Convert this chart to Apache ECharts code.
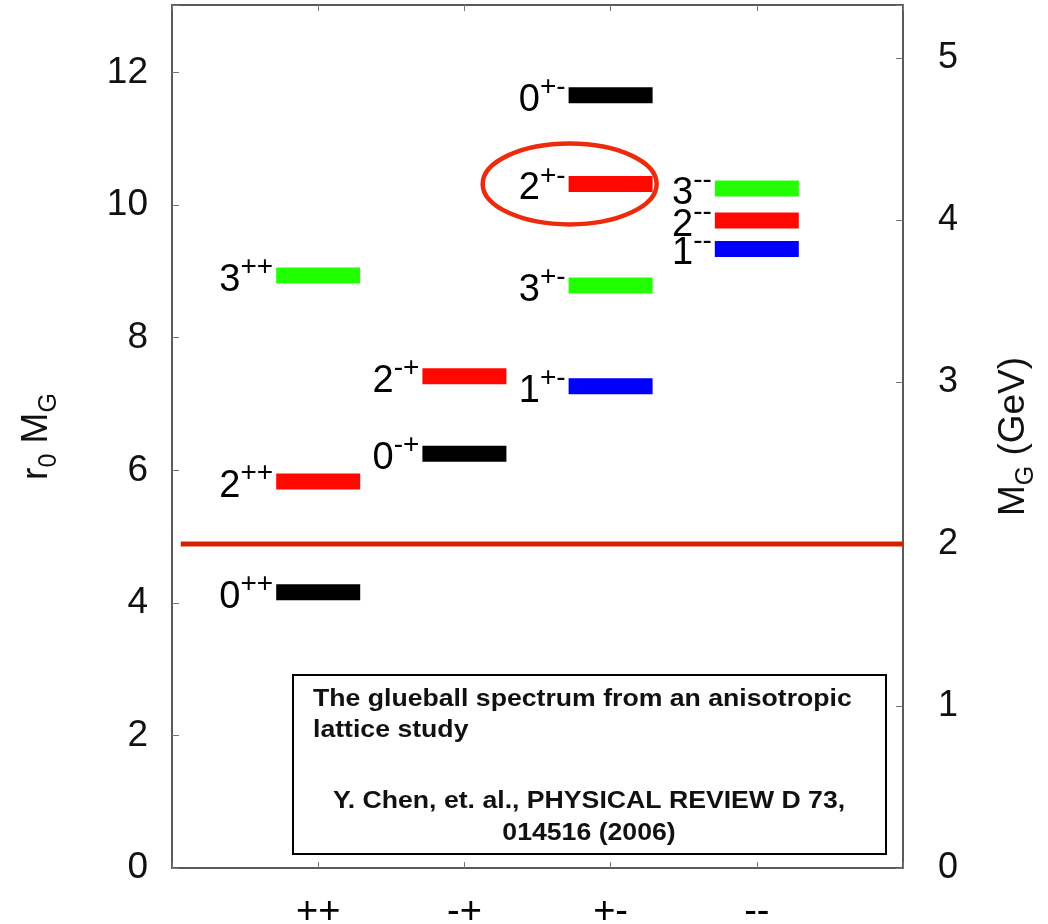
<!DOCTYPE html>
<html>
<head>
<meta charset="utf-8">
<script src="https://cdn.jsdelivr.net/npm/echarts@6/dist/echarts.min.js"></script>
<style>
html,body{margin:0;padding:0;background:#fff;}
#c{width:1048px;height:924px;}
</style>
</head>
<body>
<div id="c"></div>
<script>
// ---- data ----
const pcLabels = ['++', '-+', '+-', '--'];
const states = ['0++', '2++', '3++', '0-+', '2-+', '0+-', '2+-', '3+-', '1+-', '3--', '2--', '1--'];
const spins = [0, 2, 3, 0, 2, 0, 2, 3, 1, 3, 2, 1];
const pcColumn = [1, 1, 1, 2, 2, 3, 3, 3, 3, 4, 4, 4];
const r0M = [4.16, 5.83, 8.94, 6.25, 7.42, 11.66, 10.32, 8.79, 7.27, 10.25, 9.77, 9.34];
const leftTicks = [0, 2, 4, 6, 8, 10, 12];
const rightTicks = [0, 1, 2, 3, 4, 5];
const thresholdGeV = 2;
const highlightState = '2+-';

const spinColor = ['#000000', '#0000ff', '#ff0800', '#22ff00'];
const FONT = "'Liberation Sans', Arial, Helvetica, sans-serif";

const points = states.map((s, i) => ({
  value: [pcColumn[i], r0M[i]],
  itemStyle: { color: spinColor[spins[i]], opacity: 1 },
  label: {
    formatter: '{d|' + spins[i] + '}{s|' + s.slice(1) + '}'
  }
}));

const hi = states.indexOf(highlightState);

const axisLineStyle = { color: '#5a5a5a', width: 2 };
const tickStyle = { color: '#777', width: 1 };

const chart = echarts.init(document.getElementById('c'), null, { renderer: 'canvas' });
chart.setOption({
  backgroundColor: '#fff',
  animation: false,
  grid: { left: 172, right: 145, top: 5, bottom: 56, containLabel: false, outerBoundsMode: 'none' },
  xAxis: [{
    type: 'value', min: 0, max: 5, interval: 1, position: 'bottom',
    axisLine: { show: true, onZero: false, lineStyle: axisLineStyle },
    axisTick: { show: true, inside: true, length: 6, lineStyle: tickStyle },
    splitLine: { show: false },
    axisLabel: {
      margin: 26, fontSize: 38, color: '#000', fontFamily: FONT,
      formatter: v => (v >= 1 && v <= 4) ? pcLabels[v - 1] : ''
    }
  }, {
    type: 'value', min: 0, max: 5, interval: 1, position: 'top',
    axisLine: { show: true, onZero: false, lineStyle: axisLineStyle },
    axisTick: { show: true, inside: true, length: 6, lineStyle: tickStyle },
    splitLine: { show: false },
    axisLabel: { show: false }
  }],
  yAxis: [{
    type: 'value', min: 0, max: 13.02, interval: 2, position: 'left',
    axisLine: { show: true, onZero: false, lineStyle: axisLineStyle },
    axisTick: { show: true, inside: true, length: 7, lineStyle: tickStyle },
    splitLine: { show: false },
    axisLabel: {
      margin: 24, fontSize: 37, color: '#111', fontFamily: FONT,
      formatter: v => leftTicks.includes(v) ? String(v) : ''
    },
    name: '{m|r}{s|0}{m| M}{s|G}',
    nameLocation: 'middle', nameGap: 117,
    nameTextStyle: {
      rich: {
        m: { fontSize: 37, fontFamily: FONT, color: '#111' },
        s: { fontSize: 25, fontFamily: FONT, color: '#111', verticalAlign: 'bottom', padding: [0, 0, -7, 0] }
      }
    }
  }, {
    type: 'value', min: 0, max: 5.327, interval: 1, position: 'right',
    axisLine: { show: true, onZero: false, lineStyle: axisLineStyle },
    axisTick: { show: true, inside: true, length: 7, lineStyle: tickStyle },
    splitLine: { show: false },
    axisLabel: {
      margin: 35, fontSize: 36, color: '#111', fontFamily: FONT,
      formatter: v => rightTicks.includes(v) ? String(v) : ''
    },
    name: '{m|M}{s|G}{m| (GeV)}',
    nameLocation: 'middle', nameGap: 92, nameRotate: 90,
    nameTextStyle: {
      rich: {
        m: { fontSize: 37, fontFamily: FONT, color: '#111' },
        s: { fontSize: 25, fontFamily: FONT, color: '#111', verticalAlign: 'bottom', padding: [0, 0, -7, 0] }
      }
    }
  }],
  series: [{
    type: 'line',
    xAxisIndex: 0, yAxisIndex: 1,
    data: [[0.06, thresholdGeV], [5, thresholdGeV]],
    symbol: 'none',
    lineStyle: { color: '#d42200', width: 5 },
    silent: true, z: 1
  }, {
    type: 'scatter',
    xAxisIndex: 0, yAxisIndex: 0,
    symbol: 'rect',
    symbolSize: [84, 16],
    data: points,
    z: 3,
    itemStyle: { opacity: 1 },
    label: {
      show: true, position: 'left', distance: 3, offset: [0, 1],
      rich: {
        d: { fontSize: 38, fontFamily: FONT, color: '#000', lineHeight: 46, verticalAlign: 'bottom' },
        s: { fontSize: 28, fontFamily: FONT, color: '#000', verticalAlign: 'top' }
      }
    }
  }, {
    type: 'custom',
    xAxisIndex: 0, yAxisIndex: 0,
    data: [[pcColumn[hi] - 0.28, r0M[hi]]],
    z: 4,
    renderItem: function (params, api) {
      const c = api.coord([api.value(0), api.value(1)]);
      const sz = api.size([1.19, 1.22]);
      return {
        type: 'ellipse',
        shape: { cx: c[0], cy: c[1], rx: sz[0] / 2, ry: sz[1] / 2 },
        style: { fill: 'none', stroke: '#ee2a0c', lineWidth: 4.5 }
      };
    }
  }],
  graphic: [{
    type: 'group', left: 292, top: 674,
    children: [{
      type: 'rect', shape: { x: 0, y: 0, width: 593, height: 179 },
      style: { fill: '#fff', stroke: '#000', lineWidth: 2 }
    }, {
      type: 'text', x: 20, y: 40, scaleX: 1.11,
      style: {
        text: 'The glueball spectrum from an anisotropic\nlattice study',
        font: 'bold 24px ' + FONT, fill: '#111', lineHeight: 31,
        align: 'left', verticalAlign: 'middle'
      }
    }, {
      type: 'text', x: 296, y: 142, scaleX: 1.11,
      style: {
        text: 'Y. Chen, et. al., PHYSICAL REVIEW D 73,\n014516 (2006)',
        font: 'bold 24px ' + FONT, fill: '#111', lineHeight: 32,
        align: 'center', verticalAlign: 'middle'
      }
    }]
  }]
});
</script>
</body>
</html>
